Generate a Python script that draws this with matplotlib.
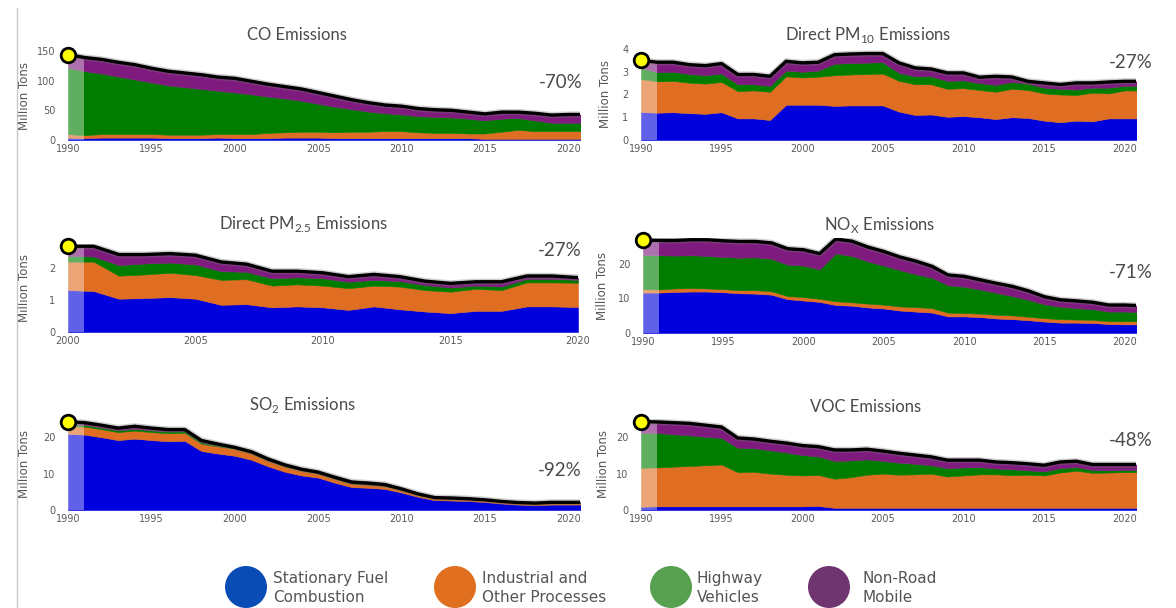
import numpy as np
import matplotlib
matplotlib.use('Agg')
import matplotlib.pyplot as plt
from matplotlib.patches import Circle, Rectangle
from matplotlib.transforms import blended_transform_factory

# years
years_90 = list(range(1990, 2022))
years_00 = list(range(2000, 2021))

# values: top edge of each stacked layer (million tons)
# order: stationary fuel, industrial, highway, non-road (= total)
co_fuel = [4, 3, 4, 4, 4, 4, 3, 3, 3, 4, 3,
           3, 3, 4, 4, 4, 3, 3, 3, 3, 3,
           3, 3, 3, 3, 2, 2, 2, 2, 2, 2, 2]
co_ind = [10, 8, 10, 10, 10, 10, 9, 9, 9, 10, 10,
          10, 12, 13, 14, 14, 13, 14, 14, 15, 15,
          13, 12, 12, 11, 11, 14, 17, 15, 15, 15, 15]
co_hwy = [122, 116, 112, 107, 102, 97, 92, 89, 86, 83, 80,
          77, 73, 70, 66, 61, 56, 52, 48, 45, 43,
          40, 39, 38, 36, 33, 36, 37, 33, 29, 29, 29]
co_total = [144, 139, 136, 131, 127, 121, 116, 113, 110, 106, 104,
            99, 94, 90, 86, 80, 74, 68, 63, 59, 57,
            53, 51, 50, 47, 44, 47, 47, 45, 42, 43, 43]

pm10_fuel = [1.23, 1.2, 1.22, 1.18, 1.15, 1.22, 0.95, 0.95, 0.88, 1.55, 1.55,
             1.55, 1.5, 1.52, 1.52, 1.52, 1.25, 1.1, 1.12, 1.02, 1.05,
             1.0, 0.92, 1.0, 0.97, 0.85, 0.78, 0.85, 0.82, 0.95, 0.95, 0.95]
pm10_ind = [2.68, 2.58, 2.6, 2.52, 2.48, 2.55, 2.15, 2.18, 2.12, 2.8, 2.75,
            2.78, 2.85, 2.88, 2.9, 2.92, 2.6, 2.45, 2.45, 2.25, 2.28,
            2.2, 2.12, 2.25, 2.2, 2.05, 2.0, 1.98, 2.08, 2.05, 2.18, 2.18]
pm10_hwy = [3.17, 2.98, 3.0, 2.9, 2.85, 2.92, 2.45, 2.45, 2.38, 3.05, 3.0,
            3.05, 3.35, 3.38, 3.4, 3.42, 2.95, 2.8, 2.8, 2.6, 2.62,
            2.5, 2.42, 2.55, 2.48, 2.3, 2.25, 2.22, 2.3, 2.3, 2.38, 2.38]
pm10_total = [3.5, 3.42, 3.42, 3.31, 3.27, 3.36, 2.88, 2.88, 2.8, 3.46, 3.39,
              3.42, 3.75, 3.78, 3.8, 3.8, 3.39, 3.17, 3.12, 2.95, 2.95,
              2.76, 2.8, 2.77, 2.58, 2.51, 2.44, 2.51, 2.51, 2.55, 2.58, 2.58]

pm25_fuel = [1.31, 1.28, 1.04, 1.06, 1.09, 1.04, 0.85, 0.87, 0.77, 0.8, 0.77,
             0.69, 0.8, 0.71, 0.64, 0.59, 0.66, 0.66, 0.8, 0.8, 0.78]
pm25_ind = [2.2, 2.2, 1.76, 1.8, 1.85, 1.78, 1.63, 1.65, 1.45, 1.49, 1.45,
            1.37, 1.45, 1.42, 1.31, 1.26, 1.35, 1.31, 1.55, 1.55, 1.54]
pm25_hwy = [2.38, 2.36, 2.09, 2.14, 2.17, 2.11, 1.9, 1.88, 1.68, 1.71, 1.68,
            1.57, 1.63, 1.59, 1.47, 1.39, 1.45, 1.42, 1.66, 1.66, 1.63]
pm25_total = [2.68, 2.68, 2.42, 2.42, 2.45, 2.4, 2.19, 2.12, 1.9, 1.9, 1.85,
              1.73, 1.8, 1.73, 1.59, 1.52, 1.57, 1.57, 1.75, 1.75, 1.7]

nox_fuel = [11.7, 11.7, 11.9, 12.0, 12.0, 11.8, 11.5, 11.4, 11.1, 9.8, 9.4,
            9.0, 8.1, 7.9, 7.4, 7.1, 6.5, 6.2, 5.9, 4.8, 4.8,
            4.6, 4.2, 4.0, 3.7, 3.3, 3.0, 3.0, 2.9, 2.6, 2.5, 2.5]
nox_ind = [12.7, 12.6, 12.9, 13.0, 12.9, 12.7, 12.4, 12.4, 12.1, 10.7, 10.4,
           9.9, 9.2, 8.9, 8.5, 8.2, 7.7, 7.5, 7.2, 5.9, 5.8,
           5.6, 5.3, 5.1, 4.7, 4.3, 4.0, 3.9, 3.8, 3.4, 3.4, 3.4]
nox_hwy = [22.6, 22.5, 22.4, 22.5, 22.3, 22.0, 21.8, 21.9, 21.5, 19.8, 19.5,
           18.4, 23.0, 22.3, 20.7, 19.5, 18.2, 17.0, 16.0, 13.8, 13.4,
           12.6, 11.6, 10.7, 9.6, 8.3, 7.6, 7.2, 6.9, 6.2, 6.2, 6.1]
nox_total = [26.9, 26.8, 26.8, 27.0, 27.0, 26.7, 26.5, 26.5, 26.1, 24.4, 24.1,
             23.0, 27.2, 26.6, 24.9, 23.6, 22.0, 20.8, 19.3, 16.8, 16.4,
             15.4, 14.4, 13.5, 12.2, 10.5, 9.6, 9.3, 8.9, 8.1, 8.1, 7.9]

so2_fuel = [20.9, 20.7, 20.0, 19.2, 19.6, 19.2, 18.9, 19.0, 16.2, 15.5, 14.9,
            13.8, 12.0, 10.5, 9.5, 8.9, 7.5, 6.3, 6.1, 5.8, 4.8,
            3.6, 2.7, 2.6, 2.5, 2.2, 1.8, 1.5, 1.3, 1.5, 1.5, 1.5]
so2_ind = [23.1, 22.9, 22.2, 21.4, 21.8, 21.4, 21.1, 21.2, 18.2, 17.5, 16.9,
           15.6, 13.6, 12.0, 10.9, 10.1, 8.6, 7.3, 7.0, 6.6, 5.5,
           4.2, 3.3, 3.1, 3.0, 2.7, 2.3, 2.0, 1.8, 2.0, 2.0, 2.0]
so2_hwy = [23.6, 23.4, 22.7, 21.9, 22.3, 21.9, 21.6, 21.7, 18.6, 17.8, 17.1,
           15.8, 13.8, 12.2, 11.0, 10.2, 8.7, 7.4, 7.1, 6.7, 5.6,
           4.3, 3.35, 3.15, 3.05, 2.75, 2.33, 2.03, 1.83, 2.03, 2.03, 2.03]
so2_total = [24.2, 24.0, 23.3, 22.5, 23.0, 22.5, 22.1, 22.1, 19.1, 18.1, 17.2,
             16.0, 14.0, 12.4, 11.2, 10.4, 9.0, 7.7, 7.4, 7.0, 5.8,
             4.4, 3.4, 3.3, 3.1, 2.8, 2.35, 2.05, 1.9, 2.1, 2.1, 2.1]

voc_fuel = [0.9, 1.0, 1.0, 1.0, 1.0, 1.0, 1.0, 1.0, 1.0, 1.0, 1.0,
            1.1, 0.6, 0.6, 0.6, 0.6, 0.6, 0.6, 0.6, 0.6, 0.6,
            0.6, 0.6, 0.6, 0.6, 0.6, 0.6, 0.6, 0.6, 0.6, 0.6, 0.6]
voc_ind = [11.6, 11.7, 11.9, 12.1, 12.3, 12.5, 10.4, 10.5, 10.0, 9.7, 9.5,
           9.6, 8.6, 9.0, 9.7, 10.0, 9.7, 9.8, 10.0, 9.2, 9.5,
           9.8, 9.8, 9.6, 9.7, 9.5, 10.3, 10.8, 10.2, 10.3, 10.4, 10.4]
voc_hwy = [21.2, 21.2, 20.8, 20.5, 20.1, 19.8, 17.1, 17.0, 16.4, 15.8, 15.1,
           14.7, 13.5, 13.6, 13.9, 13.5, 13.0, 12.7, 12.3, 11.5, 11.7,
           11.8, 11.4, 11.2, 10.9, 10.6, 11.5, 11.8, 11.0, 10.9, 11.0, 11.0]
voc_total = [24.3, 24.2, 24.0, 23.8, 23.3, 22.8, 19.8, 19.5, 18.9, 18.4, 17.7,
             17.4, 16.5, 16.5, 16.7, 16.2, 15.6, 15.1, 14.6, 13.7, 13.7,
             13.7, 13.2, 13.0, 12.7, 12.3, 13.2, 13.4, 12.5, 12.5, 12.5, 12.5]

legend_labels = ['Stationary Fuel\nCombustion', 'Industrial and\nOther Processes',
                 'Highway\nVehicles', 'Non-Road\nMobile']
stack_colors = ['#0000dc', '#df6d22', '#007d00', '#7f1a7f']
legend_colors = ['#0a4cb6', '#e07020', '#56a050', '#6e3570']

W, H = 1176, 608
fig = plt.figure(figsize=(W / 100, H / 100), dpi=100)
fig.patch.set_facecolor('white')

TXT = '#555555'


def px_rect(left, top, right, bottom):
    return [left / W, 1 - bottom / H, (right - left) / W, (bottom - top) / H]


def draw_panel(rect, years, layers, ylim, yticks, xlim, xticks, ylab_px):
    ax = fig.add_axes(rect)
    x = np.array(years, dtype=float)
    lower = np.zeros(len(x))
    for top, col in zip(layers, stack_colors):
        top = np.array(top, dtype=float)
        ax.fill_between(x, lower, top, color=col, lw=0.4, ec=col, zorder=2)
        lower = top
    # lighter band over the first year
    band = 0.032 * (xlim[1] - xlim[0])
    ax.add_patch(Rectangle((xlim[0], 0), band, ylim[1] * 1.2, facecolor='white',
                           alpha=0.38, lw=0, zorder=3, clip_on=False))
    # total line
    ax.plot(x, lower, color='#777777', lw=4.5, alpha=0.35, zorder=4,
            solid_capstyle='round')
    ax.plot(x, lower, color='black', lw=2.4, zorder=5, solid_capstyle='round')
    ax.plot([x[0]], [lower[0]], 'o', ms=10.5, mfc='#ffff00', mec='black', mew=2,
            zorder=6, clip_on=False)
    ax.set_xlim(*xlim)
    ax.set_ylim(*ylim)
    ax.set_xticks(xticks)
    ax.set_yticks(yticks)
    ax.set_yticklabels([str(t) for t in yticks])
    ax.tick_params(length=0, labelsize=7, colors='#5a5a5a')
    ax.tick_params(axis='y', pad=9)
    ax.tick_params(axis='x', pad=3)
    for s in ax.spines.values():
        s.set_visible(False)
    ax.set_ylabel('Million Tons', fontsize=8.5, color=TXT)
    tr = blended_transform_factory(fig.transFigure, ax.transAxes)
    ax.yaxis.set_label_coords(ylab_px / W, 0.5, transform=tr)
    ax.patch.set_alpha(0)
    return ax


xt90 = [1990, 1995, 2000, 2005, 2010, 2015, 2020]
xt00 = [2000, 2005, 2010, 2015, 2020]
xl90 = (1990, 2020.7)

draw_panel(px_rect(68, 51, 580, 140), years_90, [co_fuel, co_ind, co_hwy, co_total],
           (0, 150), [0, 50, 100, 150], xl90, xt90, 31)
draw_panel(px_rect(641, 49, 1136, 140), years_90, [pm10_fuel, pm10_ind, pm10_hwy, pm10_total],
           (0, 4), [0, 1, 2, 3, 4], xl90, xt90, 612)
draw_panel(px_rect(68, 244, 578, 332), years_00, [pm25_fuel, pm25_ind, pm25_hwy, pm25_total],
           (0, 2.75), [0, 1, 2], (2000, 2020), xt00, 31)
draw_panel(px_rect(643, 238, 1136, 333), years_90, [nox_fuel, nox_ind, nox_hwy, nox_total],
           (0, 27.5), [0, 10, 20], xl90, xt90, 609)
draw_panel(px_rect(68, 419, 580, 510), years_90, [so2_fuel, so2_ind, so2_hwy, so2_total],
           (0, 25), [0, 10, 20], xl90, xt90, 31)
draw_panel(px_rect(641, 419, 1136, 510), years_90, [voc_fuel, voc_ind, voc_hwy, voc_total],
           (0, 25), [0, 10, 20], xl90, xt90, 610)

# overlay in pixel coordinates for titles, labels and legend
ov = fig.add_axes([0, 0, 1, 1])
ov.set_xlim(0, W)
ov.set_ylim(H, 0)
ov.axis('off')
ov.patch.set_alpha(0)

ov.plot([17, 17], [8, H], color='#c8c8c8', lw=1)

titles = [('CO Emissions', 297, 35),
          ('Direct PM$_{\\mathregular{10}}$ Emissions', 868, 35),
          ('Direct PM$_{\\mathregular{2.5}}$ Emissions', 304, 224),
          ('NO$_{\\mathregular{X}}$ Emissions', 880, 225),
          ('SO$_{\\mathregular{2}}$ Emissions', 302, 405),
          ('VOC Emissions', 866, 407)]
for t, tx, ty in titles:
    ov.text(tx, ty, t, ha='center', va='center', fontsize=12, color='#4a4a4a',
            family='Lato')

pcts = [('-70%', 583, 83), ('-27%', 1153, 63), ('-27%', 582, 251),
        ('-71%', 1153, 272), ('-92%', 582, 470), ('-48%', 1153, 440)]
for t, tx, ty in pcts:
    ov.text(tx, ty, t, ha='right', va='center', fontsize=13.5, color='#4a4a4a',
            family='Lato')

# legend
leg_cx = [246, 455, 671, 829]
leg_tx = [273, 482, 697, 862]
for lab, col, cx, tx in zip(legend_labels, legend_colors, leg_cx, leg_tx):
    ov.add_patch(Circle((cx, 587), 21, facecolor=col, edgecolor='none'))
    ov.text(tx, 588, lab, ha='left', va='center', fontsize=11, color=TXT,
            linespacing=1.3, family='DejaVu Sans')

fig.savefig('out.png', dpi=100, facecolor='white')
